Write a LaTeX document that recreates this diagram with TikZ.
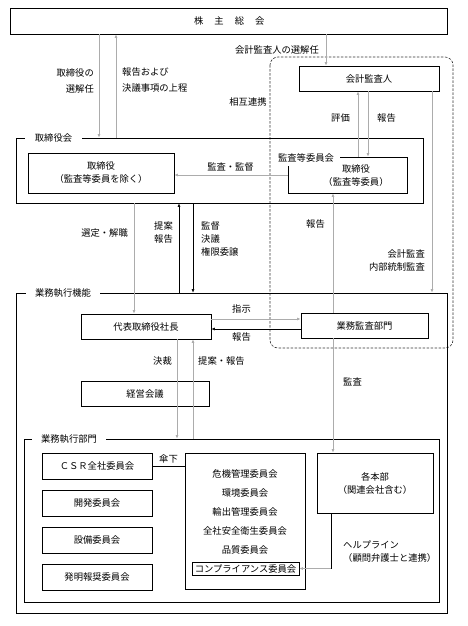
\documentclass[tikz,border=0pt]{standalone}
\usepackage{fontspec}
\setmainfont{Noto Sans CJK JP}
\usetikzlibrary{arrows.meta}

\tikzset{
  box/.style={draw, fill=white, line width=0.8pt, inner sep=1pt, align=center},
  frame/.style={draw, line width=0.8pt, inner sep=0pt},
  grp/.style={fill=white, inner sep=0pt, minimum height=12pt},
  lbl/.style={inner sep=0pt},
  gline/.style={draw=gray!65, line width=0.9pt},
  kline/.style={draw=black, line width=0.5pt},
}

\begin{document}
\begin{tikzpicture}[x=1pt, y=-1pt, >={Latex[length=3.5pt,width=3pt]},
  every node/.style={font=\fontsize{9.3}{13}\selectfont}]
  \useasboundingbox (0,0) rectangle (467,626);

  % audit group (dashed)
  \draw[gray!40!black, line width=0.6pt, dash pattern=on 2.5pt off 1.5pt, rounded corners=8pt] (270,57) rectangle (453,348);

  % frames
  \node[frame, minimum width=407pt, minimum height=65pt] (torikai) at (219.5,170.5) {};
  \node[frame, minimum width=431pt, minimum height=320pt] (gyomu) at (231.5,453) {};
  \node[frame, minimum width=415pt, minimum height=163pt] (bumon) at (231.5,520.5) {};
  \node[grp, minimum width=57pt] (torikailbl) at (53.5,138) {取締役会};
  \node[grp, minimum width=74pt] (gyomulbl) at (63,293) {業務執行機能};
  \node[grp, minimum width=74pt] (bumonlbl) at (69,439) {業務執行部門};

  % boxes
  \node[box, minimum width=437pt, minimum height=26pt] (kabu) at (229.3,21)
    {株\hspace{11pt}主\hspace{11pt}総\hspace{11pt}会};
  \node[box, minimum width=140pt, minimum height=25pt] (kaikei) at (369,78.5) {会計監査人};
  \node[box, minimum width=146pt, minimum height=40pt] (tori1) at (101,173)
    {取締役\\（監査等委員を除く）};
  \node[box, minimum width=119pt, minimum height=36pt] (tori2) at (347.5,175) {};
  \node[lbl, align=center] (tori2txt) at (356,175.5) {取締役\\（監査等委員）};
  \node[grp, minimum width=68pt, minimum height=16pt] (tori2lbl) at (306,158) {監査等委員会};
  \node[box, minimum width=130pt, minimum height=25pt] (shacho) at (146,326.5) {代表取締役社長};
  \node[box, minimum width=127pt, minimum height=25pt] (kansabu) at (364.5,325.5) {業務監査部門};
  \node[box, minimum width=128pt, minimum height=25pt] (keiei) at (145,393.5) {経営会議};

  \foreach \name/\yy/\txt in {csr/466/ＣＳＲ全社委員会, kaihatsu/503/開発委員会,
      setsubi/540/設備委員会, hatsumei/577/発明報奨委員会}
    \node[box, minimum width=110pt, minimum height=26pt] (\name) at (97,\yy) {\txt};

  \node[box, minimum width=120pt, minimum height=136pt] (iinkai) at (245,521) {};
  \foreach \name/\yy/\txt in {kiki/474/危機管理委員会, kankyo/493/環境委員会,
      yushutsu/512/輸出管理委員会, anzen/531/全社安全衛生委員会, hinshitsu/550/品質委員会}
    \node[lbl] (\name) at (245,\yy) {\txt};
  \node[box, minimum width=107pt, minimum height=13pt] (comp) at (245.5,568.5) {コンプライアンス委員会};

  \node[box, minimum width=116pt, minimum height=60pt] (honbu) at (375,483)
    {各本部\\（関連会社含む）};

  % shareholders
  \draw[gline,->] (kabu.south -| 99,0) -- (torikai.north -| 99,0);
  \draw[gline,->] (torikai.north -| 116,0) -- (kabu.south -| 116,0);
  \node[lbl, anchor=east, align=right] (lsenkai) at (94,80.5) {取締役の\\[3pt]選解任};
  \node[lbl, anchor=west, align=left] (ljogen) at (122,80.5) {報告および\\[3pt]決議事項の上程};
  \draw[gline,->] (kabu.south -| 326,0) -- (kaikei.north -| 326,0);
  \node[lbl, anchor=east] (lkaisen) at (319,50) {会計監査人の選解任};
  \node[lbl] (lsogo) at (248,102) {相互連携};

  % auditors
  \draw[gline,->] (tori2.north -| 358,0) -- (kaikei.south -| 358,0);
  \node[lbl, anchor=east] (lhyoka) at (350,118) {評価};
  \draw[gline,->] (kaikei.south -| 368,0) -- (tori2.north -| 368,0);
  \node[lbl, anchor=west] (lhokoku1) at (377,118) {報告};
  \draw[gline,->] (kaikei.south -| 432,0) -- (gyomu.north -| 432,0);
  \node[lbl, anchor=east, align=right] (lnaibu) at (425,260) {会計監査\\内部統制監査};
  \draw[gline,->] (tori2.west) -- (tori2.west -| tori1.east);
  \node[lbl] (lkansa1) at (230.5,167) {監査・監督};

  % board and president
  \draw[gline,->] (torikai.south -| 134,0) -- (shacho.north -| 134,0);
  \node[lbl, anchor=east] (lsentei) at (128,233) {選定・解職};
  \draw[kline,->] (gyomu.north -| 179,0) -- (torikai.south -| 179,0);
  \node[lbl, anchor=east, align=right] (lteian1) at (173,233) {提案\\報告};
  \draw[kline,->] (torikai.south -| 193,0) -- (gyomu.north -| 193,0);
  \node[lbl, anchor=west, align=left] (lkantoku) at (201,238.5) {監督\\決議\\権限委譲};
  \draw[gline,->] (kansabu.north -| 333,0) -- (tori2.south -| 333,0);
  \node[lbl, anchor=east] (lhokoku2) at (325,224) {報告};
  \draw[gline,->] (kansabu.south -| 333,0) -- (honbu.north -| 333,0);
  \node[lbl, anchor=west] (lkansa2) at (343,382) {監査};
  \draw[gline,->] (shacho.east |- 0,319) -- (kansabu.west |- 0,319);
  \node[lbl] (lshiji) at (241.5,309) {指示};
  \draw[kline,->] (kansabu.west |- 0,329) -- (shacho.east |- 0,329);
  \node[lbl] (lhokoku3) at (241.5,337) {報告};

  % execution
  \draw[gline,->] (shacho.south -| 177,0) -- (bumon.north -| 177,0);
  \node[lbl, anchor=east] (lkessai) at (172,361) {決裁};
  \draw[gline,->] (bumon.north -| 193,0) -- (shacho.south -| 193,0);
  \node[lbl, anchor=west] (lteian2) at (198,361) {提案・報告};
  \draw[kline] (csr.east) -- (csr.east -| iinkai.west);
  \node[lbl] (lsanka) at (168.5,459) {傘下};
  \coordinate (hlbend) at (331,568.5);
  \draw[kline] (honbu.south -| hlbend) -- (hlbend);
  \draw[gline,->] (hlbend) -- (hlbend -| comp.east);
  \node[lbl, anchor=west, align=left] (lhelp) at (343,552) {ヘルプライン\\（顧問弁護士と連携）};
\end{tikzpicture}
\end{document}
